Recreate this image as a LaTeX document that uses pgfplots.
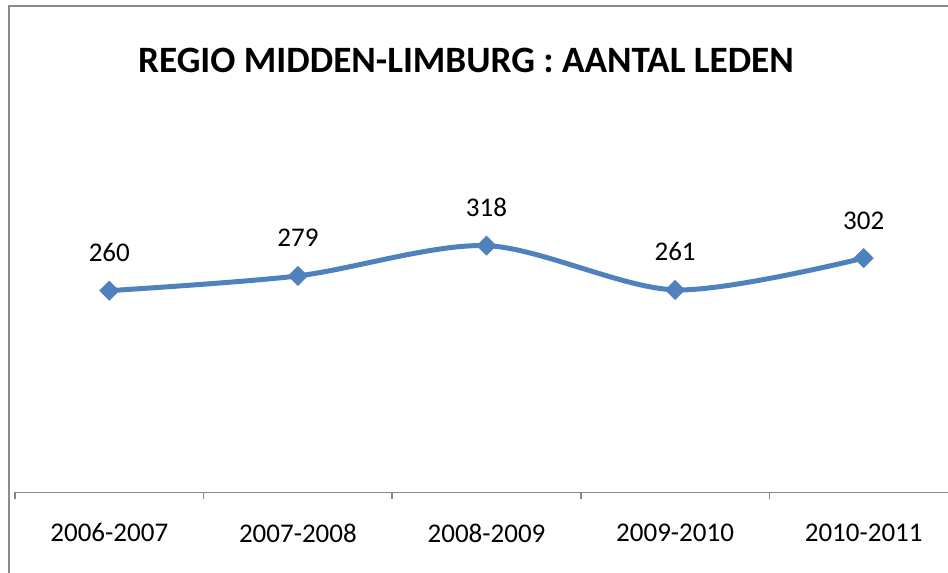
\documentclass[border=0pt]{standalone}
\usepackage{pgfplots}
\pgfplotsset{compat=1.18}
\usepackage{fontspec}
\setmainfont{Carlito}
\definecolor{exblue}{RGB}{79,129,189}
\definecolor{axgray}{RGB}{134,134,134}
\definecolor{bordergray}{RGB}{140,140,140}
\begin{document}
\begin{tikzpicture}
\useasboundingbox (0,0) rectangle (474pt,286.5pt);
\clip (0,0) rectangle (474pt,286.5pt);
\draw[bordergray, line width=0.8pt] (4.5pt,-20pt) -- (4.5pt,283.5pt) -- (500pt,283.5pt);
\node[anchor=base, inner sep=0pt, font=\bfseries\fontsize{18.6}{22}\selectfont] at (233pt,250pt) {REGIO MIDDEN-LIMBURG : AANTAL LEDEN};
\begin{axis}[
  at={(7.5pt,40.25pt)}, anchor=south west,
  scale only axis, width=471.5pt, height=196pt,
  xmin=-0.5, xmax=4.5, ymin=0, ymax=505,
  axis x line*=bottom, axis y line=none,
  xtick={0,...,4},
  xticklabels={2006-2007,2007-2008,2008-2009,2009-2010,2010-2011},
  major tick length=0pt,
  minor xtick={-0.5,0.5,1.5,2.5,3.5,4.5},
  minor tick length=3.5pt, tick align=outside,
  minor tick style={axgray, line width=0.75pt},
  ytick=\empty,
  axis line style={axgray, line width=0.75pt},
  xticklabel style={font=\fontsize{13.5}{16}\selectfont, yshift=-12pt},
  nodes near coords,
  nodes near coords style={anchor=base, yshift=14.5pt, text=black, font=\fontsize{13.5}{16}\selectfont},
  /pgf/number format/assume math mode=true,
  clip=false,
]
\addplot[exblue, line width=2.5pt, smooth, mark=square*, mark size=3.35pt,
  mark options={fill=exblue, draw=exblue, line width=0.4pt, rotate=45}]
  coordinates {(0,260)(1,279)(2,318)(3,261)(4,302)};
\end{axis}
\end{tikzpicture}
\end{document}
